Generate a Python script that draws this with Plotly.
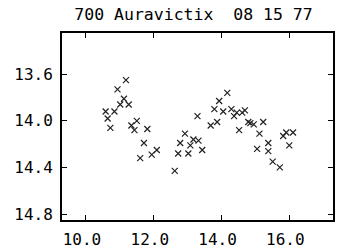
import plotly.graph_objects as go

title_text = "700 Auravictix  08 15 77"

x_vals = [10.58, 10.64, 10.72, 10.84, 10.93, 11.01, 11.12, 11.18, 11.26, 11.34,
          11.43, 11.50, 11.81, 11.71, 11.60, 11.94, 12.09, 12.62, 12.72, 12.78,
          12.92, 13.02, 13.08, 13.17, 13.32, 13.43, 13.29, 13.68, 13.87, 13.79,
          13.93, 14.17, 14.05, 14.29, 14.37, 14.45, 14.52, 14.61, 14.69, 14.79,
          14.85, 14.95, 15.23, 15.12, 15.38, 15.05, 15.38, 15.51, 15.72, 15.82,
          15.91, 16.11, 16.00]
y_vals = [13.92, 13.98, 14.06, 13.92, 13.73, 13.86, 13.81, 13.65, 13.86, 14.04,
          14.08, 14.00, 14.07, 14.19, 14.32, 14.29, 14.25, 14.43, 14.28, 14.19,
          14.11, 14.28, 14.21, 14.16, 14.17, 14.25, 13.96, 14.04, 14.01, 13.90,
          13.83, 13.76, 13.92, 13.90, 13.96, 13.93, 14.08, 13.93, 13.91, 14.01,
          14.02, 14.03, 14.01, 14.11, 14.19, 14.24, 14.26, 14.35, 14.40, 14.13,
          14.10, 14.10, 14.21]

x_ticks = [10.0, 12.0, 14.0, 16.0]
x_tick_text = ["10.0", "12.0", "14.0", "16.0"]
y_ticks = [13.6, 14.0, 14.4, 14.8]
y_tick_text = ["13.6", "14.0", "14.4", "14.8"]

mono = "DejaVu Sans Mono"

fig = go.Figure(go.Scatter(
    x=x_vals, y=y_vals, mode="markers",
    marker=dict(symbol="x-thin", size=6, line=dict(width=1.2, color="#222")),
))

fig.update_layout(
    width=350, height=250,
    margin=dict(l=62, r=17, t=33, b=30, autoexpand=False),
    paper_bgcolor="white", plot_bgcolor="white",
    showlegend=False,
    font=dict(family=mono, color="black", size=16),
    title=dict(text=title_text, x=0.553, xanchor="center", y=0.945, yanchor="middle",
               font=dict(family=mono, size=16.5, color="black")),
)
fig.update_xaxes(
    range=[9.292, 17.29], tickvals=x_ticks, ticktext=x_tick_text,
    showgrid=False, zeroline=False, automargin=False,
    showline=True, linecolor="black", linewidth=2, mirror="ticks",
    ticks="inside", ticklen=5, tickwidth=1, tickcolor="black",
    ticklabelstandoff=4, ticklabelshift=-4,
    tickfont=dict(family=mono, size=16),
)
fig.update_yaxes(
    range=[14.851, 13.246], tickvals=y_ticks, ticktext=y_tick_text,
    showgrid=False, zeroline=False, automargin=False,
    showline=True, linecolor="black", linewidth=2, mirror="ticks",
    ticks="inside", ticklen=5, tickwidth=1, tickcolor="black",
    ticklabelstandoff=4,
    tickfont=dict(family=mono, size=16),
)

fig.write_html("out.html")
